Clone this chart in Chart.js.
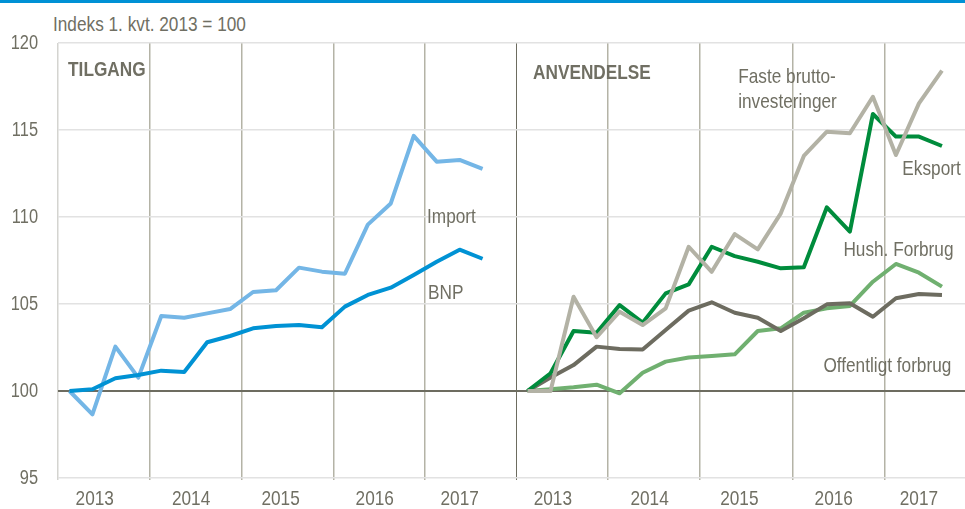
<!DOCTYPE html>
<html>
<head>
<meta charset="utf-8">
<script src="https://cdn.jsdelivr.net/npm/chart.js@4/dist/chart.umd.min.js"></script>
<style>
  body { margin: 0; width: 965px; height: 509px; overflow: hidden; background: #fff; position: relative; font-family: 'Liberation Sans', Arial, sans-serif; }
  #topline { position: absolute; left: 0; top: 0; width: 965px; height: 3px; background: #0091d5; }
  #unit { position: absolute; left: 53px; top: 13px; font-size: 21px; line-height: 21px; color: #706f63; transform: scaleX(0.82); transform-origin: 0 0; white-space: nowrap; }
  #left { position: absolute; left: 0; top: 0; }
  #right { position: absolute; left: 516px; top: 0; }
</style>
</head>
<body>
<div id="topline"></div>
<div id="unit">Indeks 1. kvt. 2013 = 100</div>
<div id="left"><canvas id="tilgang" width="517" height="509"></canvas></div>
<div id="right"><canvas id="anvendelse" width="449" height="509"></canvas></div>
<script>
// quarters 2013 Q1 .. 2017 Q3
const years = ['2013', '2014', '2015', '2016', '2017'];
const yearLabelPos = [1.1, 5.3, 9.2, 13.3, 17.0];
const yearBounds = [-0.5, 3.5, 7.5, 11.5, 15.5];
const yTicks = [95, 100, 105, 110, 115, 120];

const importData = [100, 98.66, 102.55, 100.77, 104.31, 104.21, 104.46, 104.71, 105.69, 105.79, 107.09, 106.86, 106.74, 109.56, 110.78, 114.66, 113.18, 113.28, 112.76];
const bnp = [100, 100.1, 100.73, 100.92, 101.17, 101.09, 102.8, 103.16, 103.6, 103.74, 103.79, 103.66, 104.85, 105.52, 105.94, 106.67, 107.43, 108.12, 107.6];

const fasteInv = [100, 100, 105.42, 103.09, 104.56, 103.79, 104.75, 108.29, 106.85, 109.02, 108.14, 110.21, 113.51, 114.9, 114.81, 116.91, 113.56, 116.53, 118.41];
const eksport = [100, 101.02, 103.45, 103.35, 104.94, 103.93, 105.61, 106.13, 108.29, 107.75, 107.43, 107.05, 107.11, 110.56, 109.16, 115.92, 114.62, 114.62, 114.08];
const hushForbrug = [100, 100.1, 100.21, 100.36, 99.87, 101.05, 101.69, 101.93, 102.01, 102.11, 103.45, 103.6, 104.5, 104.75, 104.89, 106.28, 107.3, 106.8, 106.0];
const offForbrug = [100, 100.77, 101.49, 102.55, 102.41, 102.39, 103.51, 104.62, 105.1, 104.5, 104.21, 103.45, 104.18, 104.98, 105.04, 104.27, 105.33, 105.57, 105.52];

const textColor = '#706f63';
const darkLine = '#6d6c60';
const font = "'Liberation Sans', Arial, sans-serif";

function pts(arr) { return arr.map((v, i) => ({ x: i, y: v })); }

function line(label, data, color) {
  return { label: label, data: pts(data), borderColor: color, borderWidth: 4, pointRadius: 0, tension: 0, borderJoinStyle: 'round', borderCapStyle: 'butt' };
}

// narrow text, like Arial Narrow in the original
function narrowText(c, text, x, y, align, size, bold) {
  c.save();
  c.translate(x, y);
  c.scale(0.82, 1);
  c.font = (bold ? 'bold ' : '') + size + 'px ' + font;
  c.textAlign = align;
  c.textBaseline = 'middle';
  c.fillStyle = textColor;
  c.fillText(text, 0, 0);
  c.restore();
}

// tick labels + labels inside the plot
const labelPlugin = {
  id: 'labels',
  afterDatasetsDraw(chart, args, opts) {
    const c = chart.ctx, xs = chart.scales.x, ys = chart.scales.y;
    yearLabelPos.forEach((p, i) => narrowText(c, years[i], xs.getPixelForValue(p), 499, 'center', 21, false));
    if (opts.showY) {
      yTicks.forEach(v => narrowText(c, String(v), 38, ys.getPixelForValue(v), 'right', 20, false));
    }
    opts.items.forEach(t => narrowText(c, t.text, xs.getPixelForValue(t.x), ys.getPixelForValue(t.y), 'left', 21, t.bold));
  }
};

function makeChart(id, datasets, xmax, showY, items, firstLine) {
  return new Chart(document.getElementById(id), {
    type: 'line',
    data: { datasets: datasets },
    plugins: [labelPlugin],
    options: {
      responsive: false,
      animation: false,
      layout: { padding: { top: 43, right: 0, left: 0, bottom: 0 } },
      plugins: { legend: { display: false }, tooltip: { enabled: false }, labels: { items: items, showY: showY } },
      scales: {
        x: {
          type: 'linear', min: -0.5, max: xmax,
          afterBuildTicks: s => { s.ticks = yearBounds.map(v => ({ value: v })); },
          afterFit: s => { s.height = 31; },
          border: { display: false },
          grid: {
            drawTicks: true, tickLength: 2,
            color: ctx => ctx.tick.value === -0.5 ? firstLine : '#b4b3a6',
            lineWidth: ctx => (ctx.tick.value === -0.5 && firstLine === darkLine) ? 2 : 1.5
          },
          ticks: { display: false }
        },
        y: {
          min: 95, max: 120,
          afterBuildTicks: s => { s.ticks = yTicks.map(v => ({ value: v })); },
          afterFit: s => { s.width = showY ? 58 : 0; },
          border: { display: false },
          grid: {
            drawTicks: false,
            color: ctx => ctx.tick.value === 100 ? darkLine : '#e2e2e2',
            lineWidth: ctx => ctx.tick.value === 100 ? 2 : 1.5
          },
          ticks: { display: false }
        }
      }
    }
  });
}

makeChart('tilgang', [
  line('BNP', bnp, '#0092d4'),
  line('Import', importData, '#74b6e6')
], 19.5, true, [
  { text: 'TILGANG', x: -0.06, y: 118.45, bold: true },
  { text: 'Import', x: 15.58, y: 110.0 },
  { text: 'BNP', x: 15.62, y: 105.63 }
], '#d4d4d0');

makeChart('anvendelse', [
  line('Faste bruttoinvesteringer', fasteInv, '#b3b2a5'),
  line('Eksport', eksport, '#008c3c'),
  line('Offentligt forbrug', offForbrug, '#6d6c60'),
  line('Hush. Forbrug', hushForbrug, '#70b070')
], 19.0, false, [
  { text: 'ANVENDELSE', x: 0.24, y: 118.28, bold: true },
  { text: 'Faste brutto-', x: 9.15, y: 118.05 },
  { text: 'investeringer', x: 9.15, y: 116.6 },
  { text: 'Eksport', x: 16.28, y: 112.76 },
  { text: 'Hush. Forbrug', x: 13.72, y: 108.1 },
  { text: 'Offentligt forbrug', x: 12.85, y: 101.44 }
], darkLine);
</script>
</body>
</html>
